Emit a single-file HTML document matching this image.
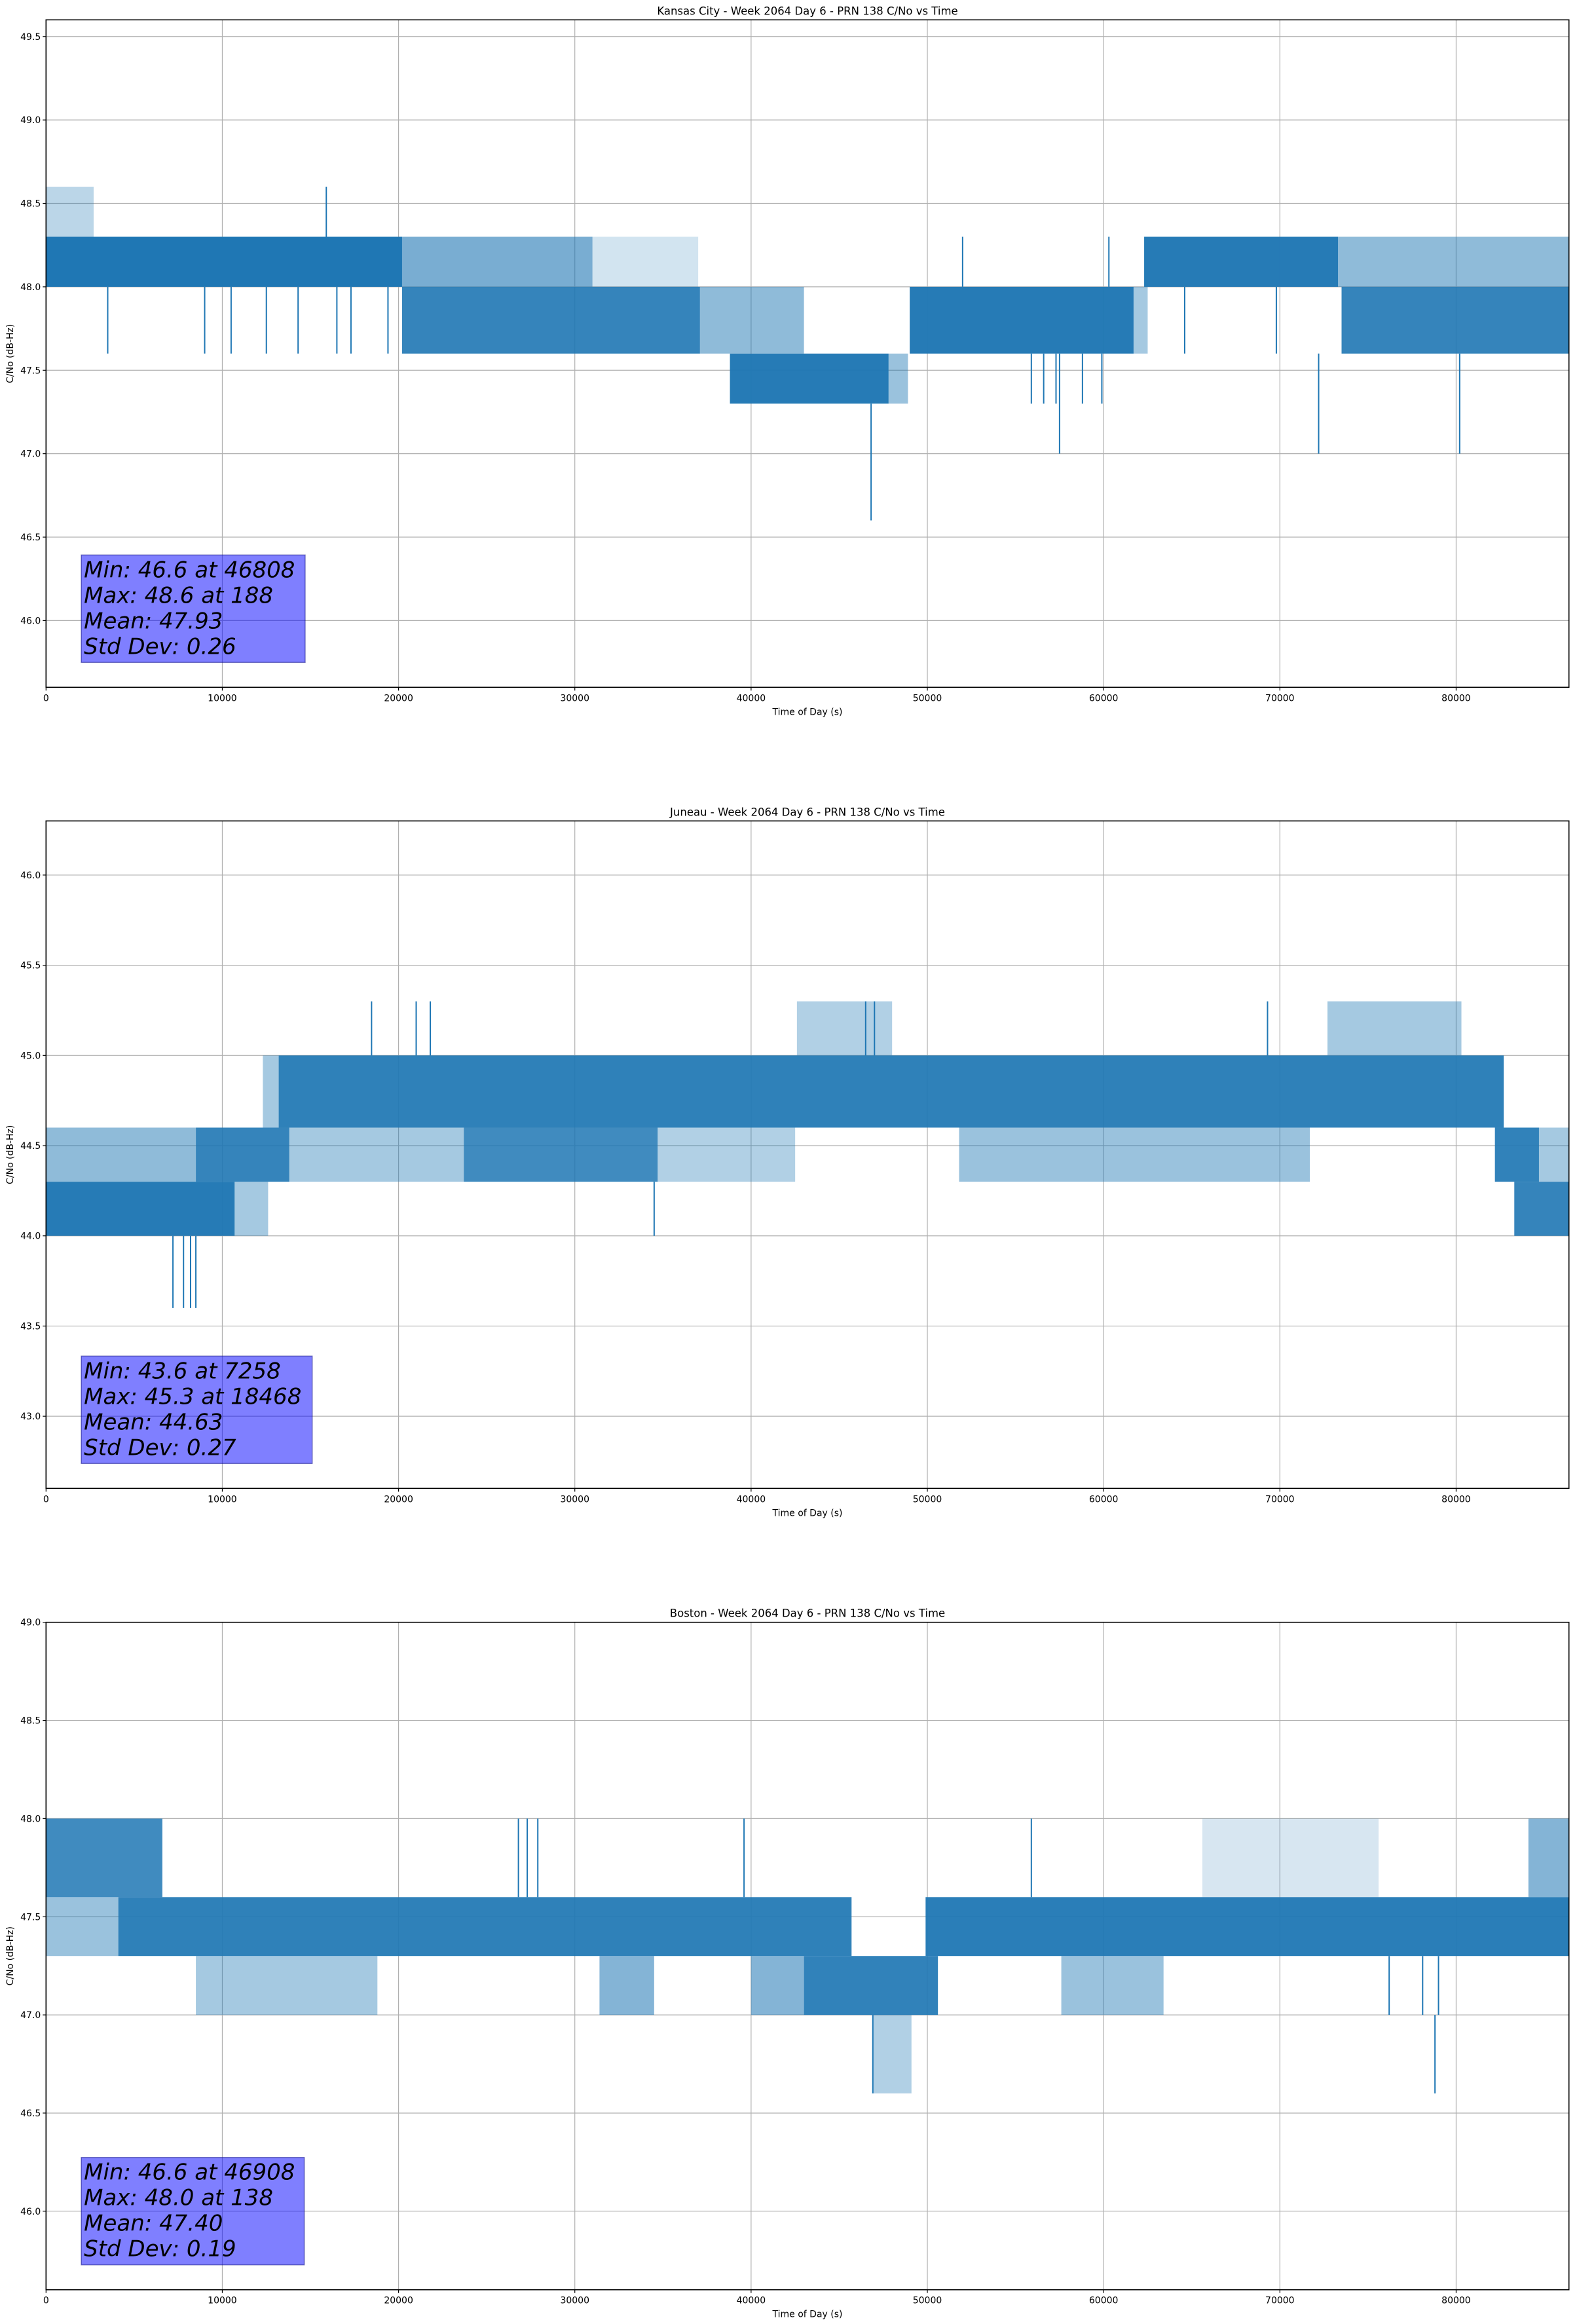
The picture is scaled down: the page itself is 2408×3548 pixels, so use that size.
<!DOCTYPE html>
<html><head><meta charset="utf-8">
<style>
html,body{margin:0;padding:0;background:#fff;}
svg{display:block;}
text{font-family:"DejaVu Sans","Liberation Sans",sans-serif;fill:#000;}
</style></head>
<body>
<svg id="fig" width="2408" height="3548" viewBox="0 0 2408 3548" xmlns="http://www.w3.org/2000/svg">
<rect x="0" y="0" width="2408" height="3548" fill="#fff"/>
</svg>
<script>
// ---- Data ----
const xTicks = [0,10000,20000,30000,40000,50000,60000,70000,80000];
const titles = ["Kansas City - Week 2064 Day 6 - PRN 138 C/No vs Time","Juneau - Week 2064 Day 6 - PRN 138 C/No vs Time","Boston - Week 2064 Day 6 - PRN 138 C/No vs Time"];
const yRanges = [[45.6,49.6],[42.6,46.3],[45.6,49.0]];
const yTicks1 = [46.0,46.5,47.0,47.5,48.0,48.5,49.0,49.5];
const yTicks2 = [43.0,43.5,44.0,44.5,45.0,45.5,46.0];
const yTicks3 = [46.0,46.5,47.0,47.5,48.0,48.5,49.0];
const stats1 = ["Min: 46.6 at 46808","Max: 48.6 at 188","Mean: 47.93","Std Dev: 0.26"];
const stats2 = ["Min: 43.6 at 7258","Max: 45.3 at 18468","Mean: 44.63","Std Dev: 0.27"];
const stats3 = ["Min: 46.6 at 46908","Max: 48.0 at 138","Mean: 47.40","Std Dev: 0.19"];
// band segments: start time, end time, low C/No, high C/No, fill density
const segStart1 = [0,20200,31000,20200,37100,38800,47800,49000,61700,62300,73300,73500,0];
const segEnd1   = [20200,31000,37000,37100,43000,47800,48900,61700,62500,73300,86400,86400,2700];
const segLo1    = [48.0,48.0,48.0,47.6,47.6,47.3,47.3,47.6,47.6,48.0,48.0,47.6,48.3];
const segHi1    = [48.3,48.3,48.3,48.0,48.0,47.6,47.6,48.0,48.0,48.3,48.3,48.0,48.6];
const segDen1   = [1,0.6,0.2,0.9,0.5,0.97,0.45,0.97,0.4,0.97,0.5,0.9,0.3];
const spikeT1  = [15900,46808,57500,72200,80200,3500,9000,10500,12500,14300,16500,17300,19400,52000,55900,56600,57300,58800,59900,60300,64600,69800];
const spikeLo1 = [48.3,46.6,47.0,47.0,47.0,47.6,47.6,47.6,47.6,47.6,47.6,47.6,47.6,48.0,47.3,47.3,47.3,47.3,47.3,48.0,47.6,47.6];
const spikeHi1 = [48.6,47.3,47.6,47.6,47.6,48.0,48.0,48.0,48.0,48.0,48.0,48.0,48.0,48.3,47.6,47.6,47.6,47.6,47.6,48.3,48.0,48.0];

const segStart2 = [0,10700,0,8500,13800,23700,34700,51800,82200,84700,13200,12300,42600,72700,83300];
const segEnd2   = [10700,12600,8500,13800,23700,34700,42500,71700,84700,86400,82700,13200,48000,80300,86400];
const segLo2    = [44.0,44.0,44.3,44.3,44.3,44.3,44.3,44.3,44.3,44.3,44.6,44.6,45.0,45.0,44.0];
const segHi2    = [44.3,44.3,44.6,44.6,44.6,44.6,44.6,44.6,44.6,44.6,45.0,45.0,45.3,45.3,44.3];
const segDen2   = [0.97,0.4,0.5,0.9,0.4,0.85,0.35,0.45,0.92,0.4,0.93,0.4,0.35,0.4,0.9];
const spikeT2  = [18468,21000,21800,69300,7200,7800,8200,8500,34500,46500,47000];
const spikeLo2 = [45.0,45.0,45.0,45.0,43.6,43.6,43.6,43.6,44.0,45.0,45.0];
const spikeHi2 = [45.3,45.3,45.3,45.3,44.0,44.0,44.0,44.0,44.3,45.3,45.3];

const segStart3 = [0,0,4100,49900,8500,31400,40000,43000,57600,65600,84100,46900];
const segEnd3   = [6600,4100,45700,86400,18800,34500,43000,50600,63400,75600,86400,49100];
const segLo3    = [47.6,47.3,47.3,47.3,47.0,47.0,47.0,47.0,47.0,47.6,47.6,46.6];
const segHi3    = [48.0,47.6,47.6,47.6,47.3,47.3,47.3,47.3,47.3,48.0,48.0,47.0];
const segDen3   = [0.85,0.45,0.93,0.95,0.4,0.55,0.55,0.92,0.45,0.18,0.55,0.35];
const spikeT3  = [26800,27300,27900,39600,55900,78800,76200,78100,79000,46908];
const spikeLo3 = [47.6,47.6,47.6,47.6,47.6,46.6,47.0,47.0,47.0,46.6];
const spikeHi3 = [48.0,48.0,48.0,48.0,48.0,47.0,47.3,47.3,47.3,47.0];

// ---- Layout ----
const NS = "http://www.w3.org/2000/svg";
const svg = document.getElementById('fig');
const LEFT = 70.3, RIGHT = 2395.7, XMAX = 86400;
const tops = [30.3, 1253.3, 2476.7];
const PH = 1019;
const BLUE = "#1f77b4";

function mk(tag, attrs, parent){
  const e = document.createElementNS(NS, tag);
  for (const k in attrs) e.setAttribute(k, attrs[k]);
  (parent||svg).appendChild(e);
  return e;
}
function xScale(t){ return LEFT + (t/XMAX)*(RIGHT-LEFT); }

const allYT = [yTicks1,yTicks2,yTicks3];
const allStats = [stats1,stats2,stats3];
const segs = [[segStart1,segEnd1,segLo1,segHi1,segDen1],[segStart2,segEnd2,segLo2,segHi2,segDen2],[segStart3,segEnd3,segLo3,segHi3,segDen3]];
const spikes = [[spikeT1,spikeLo1,spikeHi1],[spikeT2,spikeLo2,spikeHi2],[spikeT3,spikeLo3,spikeHi3]];
const boxRight = [14700, 15100, 14650];

for (let p=0;p<3;p++){
  const top = tops[p], bot = top+PH;
  const [y0,y1] = yRanges[p];
  const yScale = v => bot - (v-y0)/(y1-y0)*PH;
  const g = mk('g',{});
  
  
  xTicks.forEach(t=>{
    const l = mk('line',{x1:xScale(t),x2:xScale(t),y1:top,y2:bot,stroke:'#b0b0b0','stroke-width':1.2},g);
    
    
  });
  allYT[p].forEach(v=>{
    const l = mk('line',{x1:LEFT,x2:RIGHT,y1:yScale(v),y2:yScale(v),stroke:'#b0b0b0','stroke-width':1.2},g);
    
    
  });
  const [s,e,lo,hi,den] = segs[p];
  for (let i=0;i<s.length;i++){
    const r = mk('rect',{x:xScale(s[i]),y:yScale(hi[i]),width:Math.max(1.5,xScale(e[i])-xScale(s[i])),height:yScale(lo[i])-yScale(hi[i]),fill:BLUE,'fill-opacity':den[i]},g);
    
    
  }
  const [st,sl,sh] = spikes[p];
  for (let i=0;i<st.length;i++){
    const l = mk('line',{x1:xScale(st[i]),x2:xScale(st[i]),y1:yScale(sl[i]),y2:yScale(sh[i]),stroke:BLUE,'stroke-width':2},g);
    
    
  }
  const fr = mk('rect',{x:LEFT,y:top,width:RIGHT-LEFT,height:PH,fill:'none',stroke:'#000','stroke-width':1.6},g);
  
  
  xTicks.forEach(t=>{
    mk('line',{x1:xScale(t),x2:xScale(t),y1:bot,y2:bot+5,stroke:'#000','stroke-width':1.2},g);
    const tx = mk('text',{x:xScale(t),y:bot+21,'font-size':14,'text-anchor':'middle'},g);
    tx.textContent = String(t);
    
    
  });
  allYT[p].forEach(v=>{
    mk('line',{x1:LEFT-5,x2:LEFT,y1:yScale(v),y2:yScale(v),stroke:'#000','stroke-width':1.2},g);
    const tx = mk('text',{x:LEFT-8,y:yScale(v)+5,'font-size':14,'text-anchor':'end'},g);
    tx.textContent = v.toFixed(1);
    
    
  });
  const ti = mk('text',{x:(LEFT+RIGHT)/2,y:top-8,'font-size':16.5,'text-anchor':'middle'},g);
  ti.textContent = titles[p];
  
  
  const xl = mk('text',{x:(LEFT+RIGHT)/2,y:bot+42,'font-size':14,'text-anchor':'middle'},g);
  xl.textContent = 'Time of Day (s)';
  
  
  const cy = top+PH/2;
  const yl = mk('text',{x:20,y:cy,'font-size':14,'text-anchor':'middle',transform:'rotate(-90 20 '+cy+')'},g);
  yl.textContent = 'C/No (dB-Hz)';
  
  
  const bx = xScale(2000), bw = xScale(boxRight[p]) - bx, bTop = bot-202;
  const box = mk('rect',{x:bx,y:bTop,width:bw,height:164,fill:'rgba(0,0,255,0.5)',stroke:'rgba(0,0,128,0.5)','stroke-width':1.5},g);
  
  
  allStats[p].forEach((line,i)=>{
    const tx = mk('text',{x:bx+4,y:bTop+34+i*39,'font-size':34,'font-style':'italic'},g);
    tx.textContent = line;
    
    
  });
}
</script>
</body></html>
